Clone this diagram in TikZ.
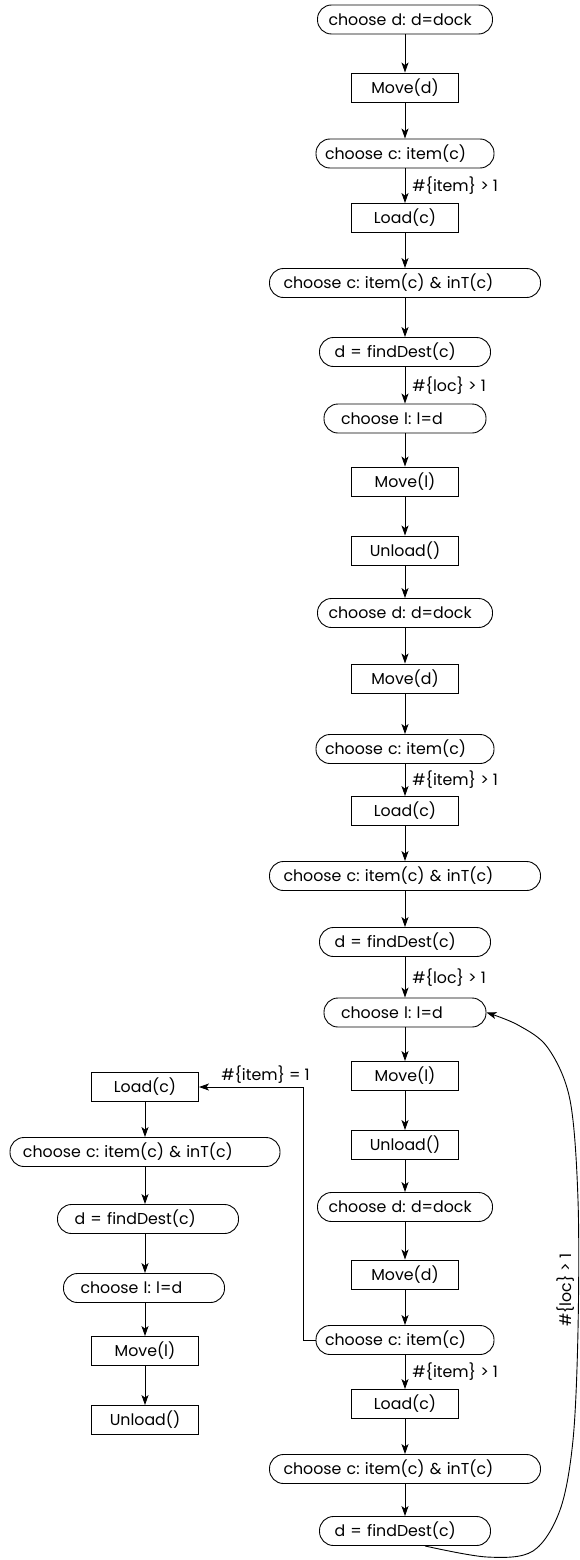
\documentclass[tikz,border=0pt]{standalone}
\usepackage{fontspec}
\setmainfont{Poppins}
\usetikzlibrary{arrows.meta,calc}
\frenchspacing
\begin{document}
\begin{tikzpicture}[x=1pt,y=-1pt,line width=0.9pt,
  >={Stealth[length=10pt,width=7pt,inset=2.5pt]},
  font=\fontsize{15.8}{18}\selectfont,
  sbox/.style={draw,rectangle,minimum width=107pt,minimum height=29pt,inner sep=0pt},
  rbox/.style 2 args={draw,rectangle,rounded corners=14pt,minimum height=29pt,inner ysep=0pt,
     inner xsep=#2pt,text width=#1pt,align=left},
  lbl/.style={right=7pt,inner sep=0pt},
  arr/.style={->}]
\useasboundingbox (0,0) rectangle (579,1560);
% main column
\node[rbox={153}{11}] (n1) at (405,19.5) {\mbox{choose d: d=dock}};
\node[sbox] (n2) at (405,87.5) {Move(d)};
\node[rbox={160}{9}] (n3) at (405,153.5) {\mbox{choose c: item(c)}};
\node[sbox] (n4) at (405,218) {Load(c)};
\node[rbox={243}{14}] (n5) at (405,283) {\mbox{choose c: item(c) \& inT(c)}};
\node[rbox={141}{15}] (n6) at (405,352) {\mbox{d = findDest(c)}};
\node[rbox={128}{17}] (n7) at (405,418.5) {\mbox{choose l: l=d}};
\node[sbox] (n8) at (405,481.5) {Move(l)};
\node[sbox] (n9) at (405,550.5) {Unload()};
\node[rbox={153}{11}] (n10) at (405,613) {\mbox{choose d: d=dock}};
\node[sbox] (n11) at (405,678.5) {Move(d)};
\node[rbox={160}{9}] (n12) at (405,749) {\mbox{choose c: item(c)}};
\node[sbox] (n13) at (405,811) {Load(c)};
\node[rbox={243}{14}] (n14) at (405,876) {\mbox{choose c: item(c) \& inT(c)}};
\node[rbox={141}{15}] (n15) at (405,942) {\mbox{d = findDest(c)}};
\node[rbox={128}{17}] (n16) at (405,1012.5) {\mbox{choose l: l=d}};
\node[sbox] (n17) at (405,1076) {Move(l)};
\node[sbox] (n18) at (405,1145) {Unload()};
\node[rbox={153}{11}] (n19) at (405,1207) {\mbox{choose d: d=dock}};
\node[sbox] (n20) at (405,1274.5) {Move(d)};
\node[rbox={160}{9}] (n21) at (405,1340) {\mbox{choose c: item(c)}};
\node[sbox] (n22) at (405,1404) {Load(c)};
\node[rbox={243}{14}] (n23) at (405,1469) {\mbox{choose c: item(c) \& inT(c)}};
\node[rbox={141}{15}] (n24) at (405,1531) {\mbox{d = findDest(c)}};
% left column
\node[sbox] (m1) at (145,1087) {Load(c)};
\node[rbox={244}{13}] (m2) at (145,1152) {\mbox{choose c: item(c) \& inT(c)}};
\node[rbox={147}{17}] (m3) at (148,1219) {\mbox{d = findDest(c)}};
\node[rbox={127}{17}] (m4) at (144,1288) {\mbox{choose l: l=d}};
\node[sbox] (m5) at (145,1351) {Move(l)};
\node[sbox] (m6) at (145,1420) {Unload()};
% main edges
\draw[arr] (n1) -- (n2);
\draw[arr] (n2) -- (n3);
\draw[arr] (n3) -- node[lbl]{\#\{item\} > 1} (n4);
\draw[arr] (n4) -- (n5);
\draw[arr] (n5) -- (n6);
\draw[arr] (n6) -- node[lbl]{\#\{loc\} > 1} (n7);
\draw[arr] (n7) -- (n8);
\draw[arr] (n8) -- (n9);
\draw[arr] (n9) -- (n10);
\draw[arr] (n10) -- (n11);
\draw[arr] (n11) -- (n12);
\draw[arr] (n12) -- node[lbl]{\#\{item\} > 1} (n13);
\draw[arr] (n13) -- (n14);
\draw[arr] (n14) -- (n15);
\draw[arr] (n15) -- node[lbl]{\#\{loc\} > 1} (n16);
\draw[arr] (n16) -- (n17);
\draw[arr] (n17) -- (n18);
\draw[arr] (n18) -- (n19);
\draw[arr] (n19) -- (n20);
\draw[arr] (n20) -- (n21);
\draw[arr] (n21) -- node[lbl]{\#\{item\} > 1} (n22);
\draw[arr] (n22) -- (n23);
\draw[arr] (n23) -- (n24);
% left edges
\draw[arr] (m1) -- (m2);
\draw[arr] (m2) -- (m1 |- m3.north);
\draw[arr] (m1 |- m3.south) -- (m1 |- m4.north);
\draw[arr] (m1 |- m4.south) -- (m5);
\draw[arr] (m5) -- (m6);
% item = 1 branch
\coordinate (k1) at (303,1340);
\draw[arr] (n21.west) -- (k1) |- node[pos=0.68,above=3pt,inner sep=0pt]{\#\{item\} = 1} (m1.east);
% loop back
\coordinate (cs) at ($(n24.south)+(20,0)$);
\draw[arr] plot[smooth,tension=0.55] coordinates {(cs) (487,1557) (533,1551) (560,1510) (573,1440) (578,1330) (578,1200) (570,1100) (548,1048) (518,1025) (n16.east)};
\node[rotate=90,inner sep=0pt] (lloc) at (566,1290) {\#\{loc\} > 1};
\end{tikzpicture}
\end{document}
